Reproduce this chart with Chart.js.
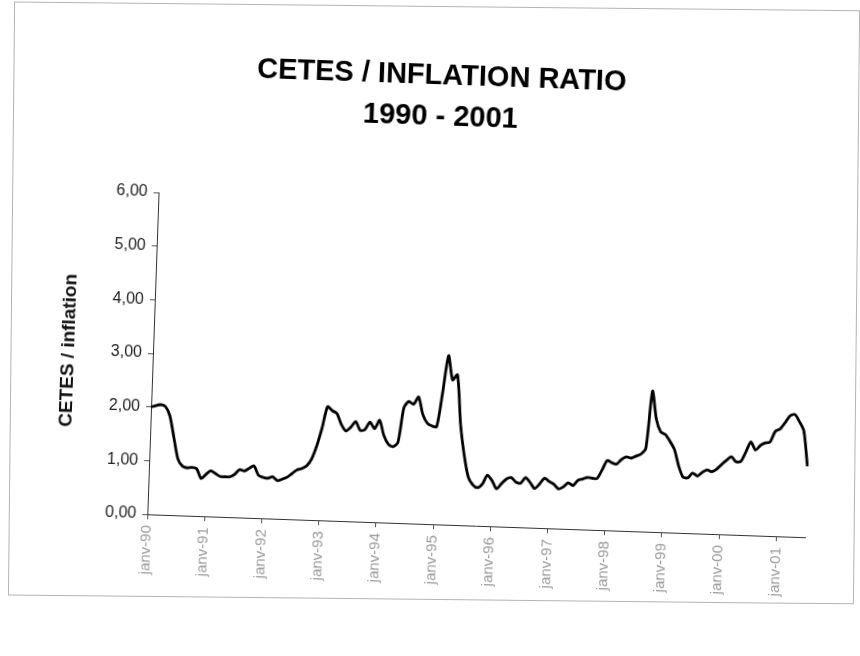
<!DOCTYPE html>
<html>
<head>
<meta charset="utf-8">
<script src="https://cdn.jsdelivr.net/npm/chart.js@4.4.1/dist/chart.umd.min.js"></script>
<style>
    html, body { margin: 0; padding: 0; background: #fff; overflow: hidden; }
    #frame {
        position: absolute; left: 11px; top: 6px; width: 844px; height: 592px;
        border: 1px solid #b4b4b4;
        transform: rotate(0.6deg); transform-origin: 430px 300px;
    }
    #page {
        position: absolute; left: 0; top: 0; width: 860px; height: 656px;
        transform: rotate(2deg); transform-origin: 430px 328px;
    }
    #chart { position: absolute; left: 0; top: 0; }
</style>
</head>
<body>
<div id="frame"></div>
<div id="page">
    <canvas id="chart" width="860" height="656"></canvas>
</div>
<script>
// monthly data, janv-90 .. juil-01
const months = ['janv', 'févr', 'mars', 'avr', 'mai', 'juin', 'juil', 'août', 'sept', 'oct', 'nov', 'déc'];
const years = ['90', '91', '92', '93', '94', '95', '96', '97', '98', '99', '00', '01'];
const ratio = [
    2.00, 2.03, 2.05, 2.02, 1.85, 1.45, 1.05, 0.92, 0.89, 0.90, 0.88, 0.70,   // 1990
    0.78, 0.85, 0.80, 0.75, 0.75, 0.75, 0.80, 0.89, 0.87, 0.92, 0.97, 0.80,   // 1991
    0.76, 0.75, 0.78, 0.71, 0.74, 0.78, 0.85, 0.92, 0.95, 1.00, 1.13, 1.38,   // 1992
    1.72, 2.12, 2.05, 2.00, 1.80, 1.68, 1.75, 1.86, 1.70, 1.72, 1.86, 1.74,   // 1993
    1.90, 1.62, 1.46, 1.42, 1.50, 2.15, 2.27, 2.22, 2.36, 2.04, 1.88, 1.83,   // 1994
    1.82, 2.45, 3.15, 2.70, 2.80, 1.88, 1.30, 0.90, 0.76, 0.71, 0.78, 0.95,   // 1995
    0.85, 0.70, 0.80, 0.89, 0.92, 0.84, 0.82, 0.93, 0.84, 0.73, 0.82, 0.93,   // 1996
    0.87, 0.82, 0.74, 0.78, 0.86, 0.81, 0.91, 0.94, 0.97, 0.96, 0.96, 1.12,   // 1997
    1.30, 1.26, 1.24, 1.33, 1.38, 1.36, 1.40, 1.44, 1.55, 2.62, 2.10, 1.87,   // 1998
    1.82, 1.70, 1.55, 1.25, 1.04, 1.03, 1.12, 1.07, 1.14, 1.19, 1.16, 1.21,   // 1999
    1.30, 1.38, 1.45, 1.36, 1.37, 1.55, 1.74, 1.59, 1.68, 1.73, 1.75, 1.95,   // 2000
    2.00, 2.12, 2.25, 2.28, 2.15, 1.98, 1.32                                  // 2001
];

const categories = [];
years.forEach(y => months.forEach(m => categories.push(m + '-' + y)));
categories.length = ratio.length;

const font = '"Liberation Sans", Arial, sans-serif';

new Chart(document.getElementById('chart'), {
    type: 'line',
    data: {
        labels: categories,
        datasets: [{
            data: ratio,
            borderColor: '#000',
            borderWidth: 2.8,
            pointRadius: 0,
            tension: 0.25,
            fill: false
        }]
    },
    options: {
        responsive: false,
        animation: false,
        devicePixelRatio: 1,
        layout: { padding: { left: 54, right: 48, top: 0, bottom: 0 } },
        plugins: {
            legend: { display: false },
            tooltip: { enabled: false },
            title: {
                display: true,
                text: ['CETES / INFLATION RATIO', '1990 - 2001'],
                color: '#000',
                font: { family: font, size: 29, weight: 'bold', lineHeight: '41px' },
                padding: { top: 55, bottom: 65 }
            }
        },
        scales: {
            x: {
                offset: false,
                afterFit: s => { s.height = 132; },
                border: { display: true, color: '#333', width: 1 },
                grid: {
                    drawOnChartArea: false,
                    tickLength: 5,
                    color: ctx => ctx.index % 12 === 0 ? '#555' : 'rgba(0,0,0,0)'
                },
                ticks: {
                    autoSkip: false,
                    minRotation: 90,
                    maxRotation: 90,
                    padding: 6,
                    color: '#999',
                    font: { family: font, size: 15 },
                    callback: function(v, i) {
                        return i % 12 === 0 ? this.getLabelForValue(v) : '';
                    }
                }
            },
            y: {
                min: 0,
                max: 6,
                afterFit: s => { s.width = 100; },
                border: { display: true, color: '#333', width: 1 },
                grid: { drawOnChartArea: false, tickLength: 5, color: '#555' },
                ticks: {
                    stepSize: 1,
                    padding: 6,
                    color: '#222',
                    font: { family: font, size: 16 },
                    callback: v => v.toFixed(2).replace('.', ',')
                },
                title: {
                    display: true,
                    text: 'CETES / inflation',
                    color: '#111',
                    font: { family: font, size: 19, weight: 'bold' },
                    padding: { top: 4, bottom: 0 }
                }
            }
        }
    }
});
</script>
</body>
</html>
